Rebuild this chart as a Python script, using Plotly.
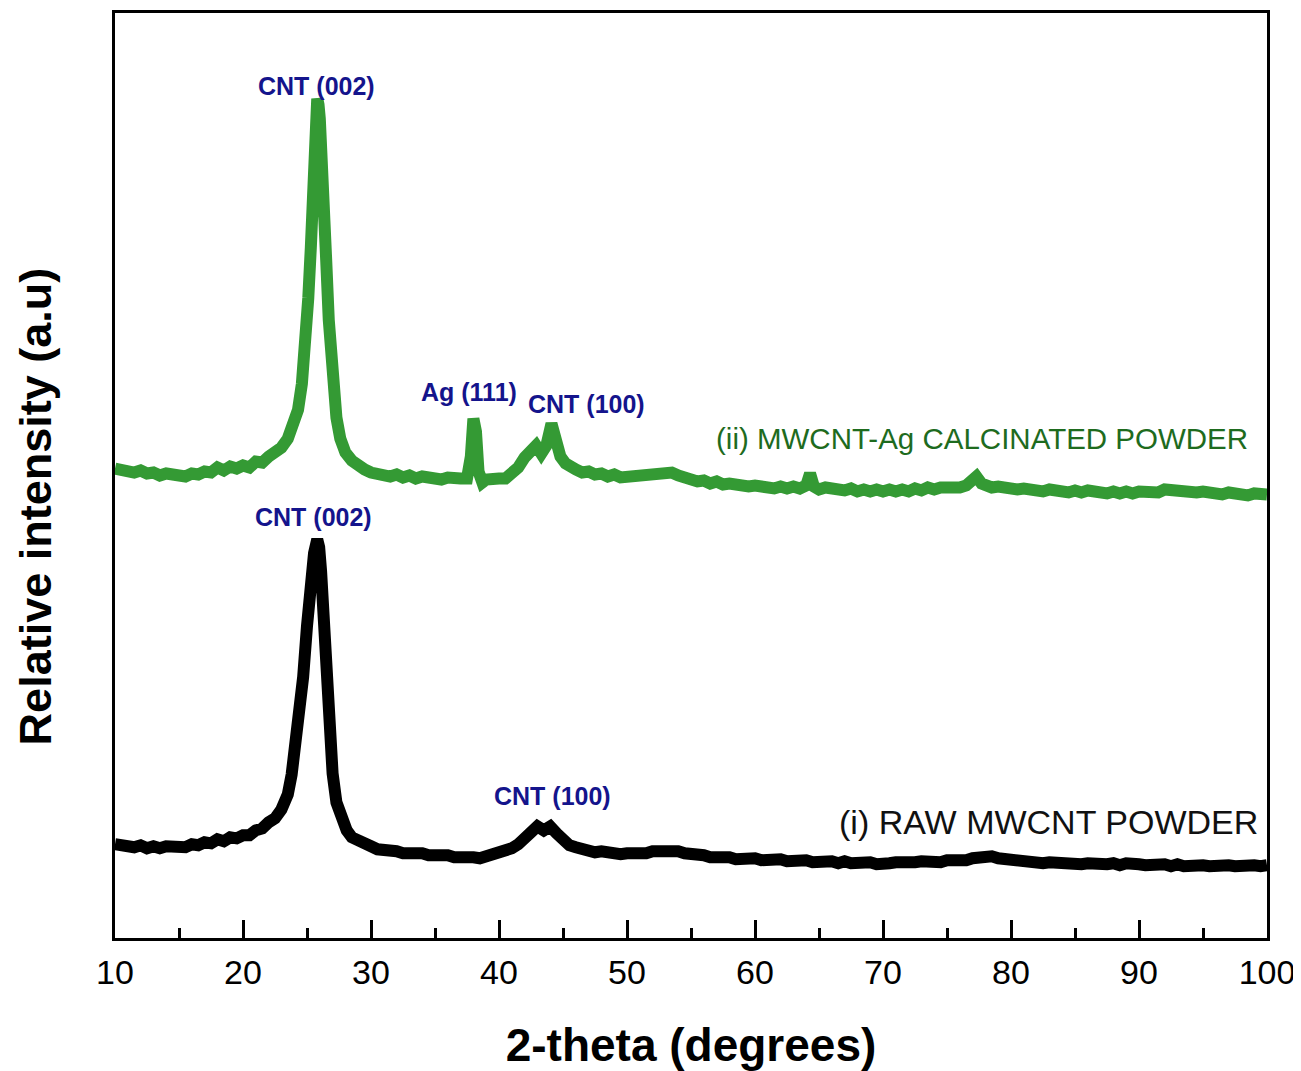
import plotly.graph_objects as go

# 2-theta (degrees) and relative intensity (a.u.)
green_x = [10.0, 10.5, 11.0, 11.5, 12.0, 12.5, 13.0, 13.5, 14.0, 14.5, 15.0, 15.5, 16.0, 16.5, 17.0, 17.5,
           18.0, 18.5, 19.0, 19.5, 20.0, 20.5, 21.0, 21.5, 22.0, 22.5, 23.0, 23.5, 24.0, 24.3, 24.6, 24.9,
           25.1, 25.3, 25.5, 25.65, 25.8, 25.9, 26.0, 26.15, 26.3, 26.5, 26.7, 27.0, 27.3, 27.6, 28.0, 28.5,
           29.0, 29.5, 30.0, 30.5, 31.0, 31.5, 32.0, 32.5, 33.0, 33.5, 34.0, 34.5, 35.0, 35.5, 36.0, 36.5,
           37.0, 37.5, 37.8, 38.0, 38.2, 38.4, 38.7, 39.0, 39.5, 40.0, 40.5, 41.0, 41.5, 42.0, 42.5, 42.9,
           43.3, 43.7, 44.1, 44.4, 44.8, 45.2, 45.6, 46.0, 46.5, 47.0, 47.5, 48.0, 48.5, 49.0, 49.5, 50.0,
           50.5, 51.0, 51.5, 52.0, 52.5, 53.0, 53.5, 54.0, 54.5, 55.0, 55.5, 56.0, 56.5, 57.0, 57.5, 58.0,
           58.5, 59.0, 59.5, 60.0, 60.5, 61.0, 61.5, 62.0, 62.5, 63.0, 63.5, 64.0, 64.3, 64.6, 65.0, 65.5,
           66.0, 66.5, 67.0, 67.5, 68.0, 68.5, 69.0, 69.5, 70.0, 70.5, 71.0, 71.5, 72.0, 72.5, 73.0, 73.5,
           74.0, 74.5, 75.0, 75.5, 76.0, 76.5, 77.0, 77.3, 77.7, 78.0, 78.5, 79.0, 79.5, 80.0, 80.5, 81.0,
           81.5, 82.0, 82.5, 83.0, 83.5, 84.0, 84.5, 85.0, 85.5, 86.0, 86.5, 87.0, 87.5, 88.0, 88.5, 89.0,
           89.5, 90.0, 90.5, 91.0, 91.5, 92.0, 92.5, 93.0, 93.5, 94.0, 94.5, 95.0, 95.5, 96.0, 96.5, 97.0,
           97.5, 98.0, 98.5, 99.0, 99.5, 100.0]
green_y = [471, 469, 470, 467, 469, 466, 467, 464, 466, 464, 465, 463, 466, 465, 468, 467,
           472, 469, 473, 471, 474, 472, 478, 477, 483, 486, 492, 501, 515, 530, 556, 597,
           642, 693, 760, 806, 842, 836, 822, 790, 740, 680, 620, 562, 522, 501, 487, 479,
           473, 470, 467, 465, 466, 463, 465, 462, 464, 461, 463, 461, 462, 460, 462, 460,
           461, 461, 483, 521, 508, 468, 457, 460, 459, 461, 461, 466, 472, 482, 490, 494,
           486, 494, 516, 498, 483, 476, 472, 470, 467, 468, 465, 466, 463, 465, 462, 463,
           462, 464, 463, 465, 466, 469, 467, 464, 461, 461, 458, 459, 456, 458, 455, 456,
           454, 455, 453, 454, 452, 453, 451, 453, 451, 453, 451, 454, 466, 453, 450, 452,
           450, 451, 449, 451, 448, 450, 448, 450, 448, 450, 448, 450, 448, 451, 449, 452,
           450, 452, 451, 453, 452, 454, 460, 463, 456, 454, 452, 453, 451, 452, 450, 451,
           449, 450, 448, 450, 448, 449, 447, 449, 447, 449, 447, 448, 446, 448, 446, 448,
           446, 448, 447, 449, 447, 450, 449, 450, 448, 449, 447, 448, 446, 447, 445, 447,
           445, 446, 444, 446, 444, 445]

black_x = [10.0, 10.5, 11.0, 11.5, 12.0, 12.5, 13.0, 13.5, 14.0, 14.5, 15.0, 15.5, 16.0, 16.5, 17.0, 17.5,
           18.0, 18.5, 19.0, 19.5, 20.0, 20.5, 21.0, 21.5, 22.0, 22.5, 23.0, 23.5, 23.8, 24.1, 24.4, 24.7,
           25.0, 25.3, 25.55, 25.8, 25.95, 26.1, 26.3, 26.5, 26.7, 27.0, 27.3, 27.7, 28.1, 28.5, 29.0, 29.5,
           30.0, 30.5, 31.0, 31.5, 32.0, 32.5, 33.0, 33.5, 34.0, 34.5, 35.0, 35.5, 36.0, 36.5, 37.0, 37.5,
           38.0, 38.5, 39.0, 39.5, 40.0, 40.5, 41.0, 41.5, 42.0, 42.5, 43.0, 43.5, 44.0, 44.5, 45.0, 45.5,
           46.0, 46.5, 47.0, 47.5, 48.0, 48.5, 49.0, 49.5, 50.0, 50.5, 51.0, 51.5, 52.0, 52.5, 53.0, 53.5,
           54.0, 54.5, 55.0, 55.5, 56.0, 56.5, 57.0, 57.5, 58.0, 58.5, 59.0, 59.5, 60.0, 60.5, 61.0, 61.5,
           62.0, 62.5, 63.0, 63.5, 64.0, 64.5, 65.0, 65.5, 66.0, 66.5, 67.0, 67.5, 68.0, 68.5, 69.0, 69.5,
           70.0, 70.5, 71.0, 71.5, 72.0, 72.5, 73.0, 73.5, 74.0, 74.5, 75.0, 75.5, 76.0, 76.5, 77.0, 77.5,
           78.0, 78.5, 79.0, 79.5, 80.0, 80.5, 81.0, 81.5, 82.0, 82.5, 83.0, 83.5, 84.0, 84.5, 85.0, 85.5,
           86.0, 86.5, 87.0, 87.5, 88.0, 88.5, 89.0, 89.5, 90.0, 90.5, 91.0, 91.5, 92.0, 92.5, 93.0, 93.5,
           94.0, 94.5, 95.0, 95.5, 96.0, 96.5, 97.0, 97.5, 98.0, 98.5, 99.0, 99.5, 100.0]
black_y = [94, 92, 93, 91, 93, 90, 92, 90, 92, 91, 93, 91, 94, 93, 96, 95,
           99, 97, 101, 100, 103, 103, 108, 110, 116, 120, 129, 144, 164, 190, 221, 262,
           313, 360, 386, 400, 392, 368, 310, 250, 205, 165, 136, 119, 108, 101, 97, 94,
           92, 89, 89, 87, 87, 85, 86, 84, 85, 83, 84, 82, 83, 81, 82, 80,
           81, 80, 82, 81, 84, 85, 90, 94, 101, 108, 112, 108, 112, 105, 98, 93,
           91, 89, 88, 86, 87, 85, 86, 84, 85, 84, 86, 85, 87, 87, 89, 87,
           87, 85, 85, 83, 83, 81, 82, 80, 81, 79, 80, 79, 80, 78, 79, 77,
           79, 77, 78, 77, 78, 76, 77, 76, 77, 75, 77, 75, 76, 75, 76, 74,
           76, 75, 76, 75, 77, 76, 77, 76, 77, 76, 78, 77, 78, 78, 80, 81,
           84, 82, 80, 79, 78, 77, 77, 76, 77, 75, 76, 75, 76, 74, 75, 74,
           75, 74, 75, 74, 75, 73, 75, 73, 74, 73, 74, 73, 74, 72, 74, 72,
           73, 72, 73, 72, 73, 71, 73, 72, 73, 71, 73, 72, 73]

x_ticks = [10, 20, 30, 40, 50, 60, 70, 80, 90, 100]

peak_labels = ["CNT (002)", "Ag (111)", "CNT (100)", "CNT (002)", "CNT (100)"]
peak_label_x = [25.78, 37.66, 46.8, 25.47, 44.2]
peak_label_y = [855, 548, 536, 422, 142]

series_names = ["(ii) MWCNT-Ag CALCINATED POWDER", "(i) RAW MWCNT POWDER"]
series_label_x = [77.77, 82.93]
series_label_y = [501, 116]

FONT = "Liberation Sans, Arial, sans-serif"
GREEN = "#349a34"
BLUE = "#14148c"

fig = go.Figure()
fig.add_trace(go.Scatter(x=black_x, y=black_y, mode="lines",
                         line=dict(color="#000000", width=12), showlegend=False))
fig.add_trace(go.Scatter(x=green_x, y=green_y, mode="lines",
                         line=dict(color=GREEN, width=12), showlegend=False))

for t, xv, yv in zip(peak_labels, peak_label_x, peak_label_y):
    fig.add_annotation(x=xv, y=yv, text="<b>" + t + "</b>", showarrow=False,
                       font=dict(family=FONT, size=25, color=BLUE),
                       xanchor="center", yanchor="middle")

label_colors = ["#1e6b1e", "#111111"]
label_sizes = [29.5, 34]
for t, xv, yv, c, s in zip(series_names, series_label_x, series_label_y, label_colors, label_sizes):
    fig.add_annotation(x=xv, y=yv, text=t, showarrow=False,
                       font=dict(family=FONT, size=s, color=c),
                       xanchor="center", yanchor="middle")

# y-axis title (placed slightly below the centre of the axis, as in the original)
fig.add_annotation(x=0, xref="paper", y=0.4666, yref="paper", xshift=-80,
                   text="<b>Relative intensity (a.u)</b>", textangle=-90, showarrow=False,
                   font=dict(family=FONT, size=45, color="#000000"),
                   xanchor="center", yanchor="middle")

# the page body adds an 8 px offset, so the figure is 8 px smaller than the window
fig.update_layout(
    width=1293, height=1063,
    margin=dict(l=107, r=34, t=2, b=133),
    paper_bgcolor="white", plot_bgcolor="white",
    font=dict(family=FONT, color="#000000"),
)
fig.update_xaxes(
    range=[10, 100], tickvals=x_ticks, ticks="inside", ticklen=18, tickwidth=3,
    tickcolor="#000000", showgrid=False, zeroline=False,
    showline=True, linewidth=3, linecolor="#000000", mirror=True,
    tickfont=dict(family=FONT, size=34, color="#000000"),
    ticklabelstandoff=2, ticklabeloverflow="allow",
    minor=dict(dtick=5, ticks="inside", ticklen=10, tickwidth=3, tickcolor="#000000", showgrid=False),
    title=dict(text="<b>2-theta (degrees)</b>", font=dict(family=FONT, size=46, color="#000000"), standoff=45),
)
fig.update_yaxes(
    range=[0, 928], showticklabels=False, ticks="", showgrid=False, zeroline=False,
    showline=True, linewidth=3, linecolor="#000000", mirror=True,
)

fig.write_html("out.html")
